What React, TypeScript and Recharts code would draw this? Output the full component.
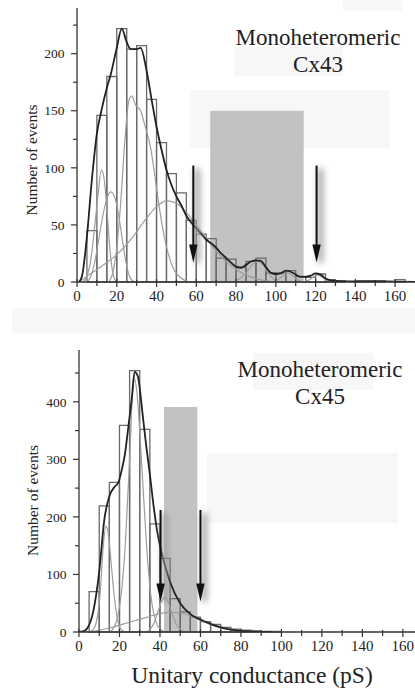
import React from "react";
import { ComposedChart, Line, XAxis, YAxis, ReferenceArea, ReferenceLine } from "recharts";

// ---------- Top panel: Cx43 ----------
const cx43BinStarts = [5, 10, 15, 20, 25, 30, 35, 40, 45, 50, 55, 60, 65, 70, 75, 80, 85, 90, 95, 100, 105, 110, 115, 120, 125, 130, 135, 140, 145, 150, 155, 160];
const cx43Counts = [45, 146, 180, 222, 204, 207, 160, 122, 95, 78, 54, 42, 38, 21, 20, 13, 18, 21, 8, 8, 10, 5, 4, 7, 2, 1, 0, 1, 1, 1, 0, 2];
const cx43Fit = [
  { x: 1, y: 0 }, { x: 2.5, y: 5 }, { x: 5, y: 40 }, { x: 7.5, y: 90 }, { x: 10, y: 130 }, { x: 12, y: 148 },
  { x: 15, y: 170 }, { x: 17, y: 182 }, { x: 20, y: 205 }, { x: 22.5, y: 222 }, { x: 25, y: 210 }, { x: 27, y: 204 },
  { x: 30, y: 204 }, { x: 32, y: 205 }, { x: 35, y: 185 }, { x: 37.5, y: 160 }, { x: 40, y: 136 }, { x: 42.5, y: 116 },
  { x: 45, y: 98 }, { x: 47.5, y: 85 }, { x: 50, y: 75 }, { x: 52.5, y: 67 }, { x: 55, y: 58 }, { x: 57.5, y: 52 },
  { x: 60, y: 47 }, { x: 62.5, y: 42 }, { x: 65, y: 37 }, { x: 67.5, y: 34 }, { x: 70, y: 30 }, { x: 72.5, y: 25 },
  { x: 75, y: 21 }, { x: 77.5, y: 17 }, { x: 80, y: 13.5 }, { x: 82.5, y: 12.5 }, { x: 85, y: 15 }, { x: 87.5, y: 18 },
  { x: 90, y: 19 }, { x: 92.5, y: 18.5 }, { x: 95, y: 13 }, { x: 97.5, y: 8 }, { x: 100, y: 7 }, { x: 102.5, y: 7.5 },
  { x: 105, y: 10 }, { x: 107.5, y: 9 }, { x: 110, y: 6.5 }, { x: 112.5, y: 4.5 }, { x: 115, y: 4.5 }, { x: 117.5, y: 5.5 },
  { x: 120, y: 7.5 }, { x: 122.5, y: 6.5 }, { x: 125, y: 3 }, { x: 127.5, y: 1.5 }, { x: 130, y: 1 }, { x: 140, y: 0.5 },
  { x: 155, y: 0.5 }, { x: 170, y: 0 },
];
const cx43G1 = [
  { x: 3, y: 0 }, { x: 5, y: 5 }, { x: 7, y: 20 }, { x: 9, y: 50 }, { x: 10.5, y: 75 }, { x: 12.3, y: 98 },
  { x: 13.5, y: 92 }, { x: 15, y: 65 }, { x: 16.5, y: 30 }, { x: 18, y: 8 }, { x: 19.5, y: 1 }, { x: 21, y: 0 },
];
const cx43G2 = [
  { x: 5, y: 0 }, { x: 7, y: 5 }, { x: 9, y: 18 }, { x: 11, y: 38 }, { x: 13, y: 58 }, { x: 15, y: 73 },
  { x: 17, y: 79 }, { x: 19, y: 74 }, { x: 21, y: 58 }, { x: 23, y: 35 }, { x: 25, y: 14 }, { x: 27, y: 3 }, { x: 29, y: 0 },
];
const cx43G3 = [
  { x: 16, y: 0 }, { x: 18, y: 8 }, { x: 20, y: 30 }, { x: 22, y: 70 }, { x: 24, y: 122 }, { x: 26, y: 158 },
  { x: 27.5, y: 163 }, { x: 29.5, y: 155 }, { x: 32, y: 150 }, { x: 34, y: 138 }, { x: 37, y: 118 }, { x: 39, y: 95 },
  { x: 41, y: 70 }, { x: 43, y: 48 }, { x: 46, y: 24 }, { x: 49, y: 10 }, { x: 52, y: 4 }, { x: 56, y: 0 },
];
const cx43G4 = [
  { x: 1, y: 0 }, { x: 5, y: 5 }, { x: 10, y: 11 }, { x: 15, y: 17 }, { x: 20, y: 24 }, { x: 25, y: 33 },
  { x: 30, y: 44 }, { x: 35, y: 56 }, { x: 40, y: 66 }, { x: 45, y: 71 }, { x: 50, y: 69 }, { x: 55, y: 61 },
  { x: 60, y: 50 }, { x: 65, y: 38 }, { x: 70, y: 27 }, { x: 75, y: 18 }, { x: 80, y: 11 }, { x: 85, y: 6 },
  { x: 90, y: 3 }, { x: 95, y: 1 }, { x: 100, y: 0 },
];
const cx43G5 = [
  { x: 78, y: 0 }, { x: 82, y: 3 }, { x: 85, y: 8 }, { x: 88, y: 15 }, { x: 91, y: 18 }, { x: 94, y: 14 },
  { x: 97, y: 6 }, { x: 100, y: 1 }, { x: 103, y: 0 },
];
const cx43G6 = [
  { x: 98, y: 0 }, { x: 101, y: 2 }, { x: 104, y: 6 }, { x: 106, y: 8 }, { x: 108, y: 6 }, { x: 111, y: 2 }, { x: 114, y: 0 },
];
const cx43G7 = [
  { x: 114, y: 0 }, { x: 117, y: 2 }, { x: 119.5, y: 5 }, { x: 121, y: 6 }, { x: 123, y: 4.5 }, { x: 125.5, y: 1.5 }, { x: 128, y: 0 },
];
const cx43Band = [67, 114, 150]; // x1, x2, top
const cx43Arrows = [
  { x: 58.5, from: 102, to: 17 },
  { x: 120.5, from: 102, to: 17 },
];

// ---------- Bottom panel: Cx45 ----------
const cx45BinStarts = [5, 10, 15, 20, 25, 30, 35, 40, 45, 50, 55, 60, 65, 70, 75, 80, 85, 90, 95];
const cx45Counts = [70, 219, 260, 359, 454, 352, 188, 128, 58, 35, 26, 18, 13, 8, 5, 3, 2, 1, 1];
const cx45Fit = [
  { x: 0, y: 0 }, { x: 2, y: 1 }, { x: 4, y: 6 }, { x: 7, y: 35 }, { x: 10, y: 105 }, { x: 12.5, y: 195 },
  { x: 15, y: 236 }, { x: 17.5, y: 252 }, { x: 19.5, y: 260 }, { x: 21, y: 280 }, { x: 22.7, y: 309 },
  { x: 24.5, y: 360 }, { x: 26, y: 403 }, { x: 27.5, y: 452 }, { x: 29, y: 445 }, { x: 31.5, y: 376 },
  { x: 33, y: 330 }, { x: 35, y: 274 }, { x: 37, y: 215 }, { x: 38.5, y: 178 }, { x: 41.5, y: 128 },
  { x: 45, y: 87 }, { x: 50, y: 50 }, { x: 55, y: 31 }, { x: 61, y: 20 }, { x: 65, y: 14 }, { x: 70, y: 8 },
  { x: 75, y: 4 }, { x: 80, y: 2 }, { x: 85, y: 1 }, { x: 95, y: 0 },
];
const cx45B1 = [
  { x: 5, y: 0 }, { x: 7, y: 4 }, { x: 9, y: 25 }, { x: 10.5, y: 70 }, { x: 12, y: 150 }, { x: 13.3, y: 184 },
  { x: 14.5, y: 170 }, { x: 16, y: 115 }, { x: 17.5, y: 60 }, { x: 19, y: 22 }, { x: 21, y: 4 }, { x: 23, y: 0 },
];
const cx45B2 = [
  { x: 15, y: 0 }, { x: 17, y: 6 }, { x: 19, y: 25 }, { x: 21, y: 70 }, { x: 23, y: 160 }, { x: 25, y: 300 },
  { x: 26.5, y: 415 }, { x: 27.3, y: 440 }, { x: 28.5, y: 420 }, { x: 30, y: 350 }, { x: 32, y: 230 },
  { x: 34, y: 120 }, { x: 36, y: 50 }, { x: 38, y: 18 }, { x: 40, y: 5 }, { x: 43, y: 0 },
];
const cx45B3 = [
  { x: 33, y: 0 }, { x: 35, y: 4 }, { x: 37, y: 15 }, { x: 39, y: 35 }, { x: 41, y: 55 }, { x: 42.5, y: 60 },
  { x: 44, y: 52 }, { x: 46, y: 32 }, { x: 48, y: 14 }, { x: 50, y: 4 }, { x: 53, y: 0 },
];
const cx45B4 = [
  { x: 3, y: 0 }, { x: 10, y: 3 }, { x: 15, y: 7 }, { x: 20, y: 12 }, { x: 25, y: 17 }, { x: 30, y: 22 },
  { x: 35, y: 27 }, { x: 40, y: 32 }, { x: 45, y: 34 }, { x: 50, y: 33 }, { x: 55, y: 28 }, { x: 60, y: 20 },
  { x: 65, y: 13 }, { x: 70, y: 7 }, { x: 75, y: 4 }, { x: 80, y: 2 }, { x: 85, y: 1 }, { x: 90, y: 0 },
];
const cx45Band = [42, 58.5, 391];
const cx45Arrows = [
  { x: 40.3, from: 212, to: 53 },
  { x: 60, from: 212, to: 53 },
];

const BIN_WIDTH = 5;
const topXTicks = [0, 10, 20, 30, 40, 50, 60, 70, 80, 90, 100, 110, 120, 130, 140, 150, 160];
const topYTicks = [0, 25, 50, 75, 100, 125, 150, 175, 200, 225];
const botXTicks = [0, 10, 20, 30, 40, 50, 60, 70, 80, 90, 100, 110, 120, 130, 140, 150, 160];
const botYTicks = [0, 50, 100, 150, 200, 250, 300, 350, 400, 450];

const SERIF = "Liberation Serif, Times New Roman, serif";
const serifStyle = { fontFamily: SERIF };
const AXIS = "#333";

const makeXTick = (every: number) => (props: any) => {
  const { x, y, payload } = props;
  const v = payload.value;
  const major = v % every === 0;
  return (
    <g>
      <line x1={x} x2={x} y1={y - (major ? 3 : 2)} y2={y + (major ? 5 : 4)} stroke={AXIS} strokeWidth={1.2} />
      {major && (
        <text x={x} y={y + 8} dy="0.71em" textAnchor="middle" fontSize={15} style={serifStyle} fill="#222">
          {v}
        </text>
      )}
    </g>
  );
};

const makeYTick = (every: number) => (props: any) => {
  const { x, y, payload } = props;
  const v = payload.value;
  const major = v % every === 0;
  return (
    <g>
      <line x1={x - (major ? 6 : 4)} x2={x} y1={y} y2={y} stroke={AXIS} strokeWidth={1.2} />
      {major && (
        <text x={x - 12.5} y={y} dy="0.35em" textAnchor="end" fontSize={13.5} style={serifStyle} fill="#222">
          {v}
        </text>
      )}
    </g>
  );
};

const ArrowShape = (props: any) => {
  const { x1, y1, x2, y2 } = props;
  if (x1 == null || y1 == null) return null;
  const head = 18;
  const hw = 4.2;
  return (
    <g>
      <line x1={x1 + 4} y1={y1 + 3} x2={x2 + 4} y2={y2} stroke="#9a9a9a" strokeWidth={5} style={{ filter: "blur(3px)" }} />
      <line x1={x1} y1={y1} x2={x2} y2={y2 - head + 2} stroke="#111" strokeWidth={2} />
      <polygon points={`${x2 - hw},${y2 - head} ${x2 + hw},${y2 - head} ${x2},${y2}`} fill="#111" />
    </g>
  );
};

const yLabel = (dx: number, dy: number) => (props: any) => {
  const vb = props.viewBox || {};
  const cx = vb.x + dx;
  const cy = vb.y + vb.height / 2 + dy;
  return (
    <text x={cx} y={cy} transform={`rotate(-90, ${cx}, ${cy})`} textAnchor="middle" fontSize={15.5} style={serifStyle} fill="#222">
      Number of events
    </text>
  );
};

const xLabel = (props: any) => {
  const vb = props.viewBox || {};
  return (
    <text x={vb.x + vb.width / 2 + 5} y={vb.y + 51} textAnchor="middle" fontSize={23.5} style={serifStyle} fill="#222">
      Unitary conductance (pS)
    </text>
  );
};

const fitLine = (data: any[], key: string) => (
  <Line key={key} data={data} dataKey="y" type="monotone" stroke="#222" strokeWidth={1.8} dot={false} isAnimationActive={false} />
);
const compLine = (data: any[], key: string) => (
  <Line key={key} data={data} dataKey="y" type="monotone" stroke="#9d9d9d" strokeWidth={1.2} dot={false} isAnimationActive={false} />
);

const faint = [
  { l: 343, t: 0, w: 59, h: 11 },
  { l: 235, t: 47, w: 108, h: 29 },
  { l: 190, t: 90, w: 199, h: 58 },
  { l: 12, t: 308, w: 403, h: 25 },
  { l: 253, t: 353, w: 120, h: 37 },
  { l: 207, t: 453, w: 191, h: 70 },
];

export default function App() {
  return (
    <div style={{ position: "absolute", left: 0, top: 0, width: 415, height: 694, background: "#fff", overflow: "hidden", fontFamily: SERIF }}>
      {faint.map((f, i) => (
        <div key={i} style={{ position: "absolute", left: f.l, top: f.t, width: f.w, height: f.h, background: "#f7f7f7" }} />
      ))}

      <div style={{ position: "absolute", left: 0, top: 0 }}>
        <ComposedChart width={415} height={305} margin={{ top: 8, right: 0, bottom: 0, left: 0 }}>
          <XAxis
            dataKey="x"
            type="number"
            domain={[0, 170]}
            ticks={topXTicks}
            interval={0}
            tickSize={0}
            tickMargin={0}
            tickLine={false}
            height={23}
            stroke={AXIS}
            strokeWidth={1.3}
            tick={makeXTick(20)}
            allowDataOverflow
          />
          <YAxis
            type="number"
            domain={[0, 240]}
            ticks={topYTicks}
            interval={0}
            tickSize={0}
            tickMargin={0}
            tickLine={false}
            width={77}
            stroke={AXIS}
            strokeWidth={1.3}
            tick={makeYTick(50)}
            allowDataOverflow
            label={{ content: yLabel(36.5, 15) }}
          />
          <ReferenceArea x1={cx43Band[0]} x2={cx43Band[1]} y1={0} y2={cx43Band[2]} fill="#c2c2c2" fillOpacity={1} stroke="none" />
          {cx43BinStarts.map((b, i) =>
            cx43Counts[i] > 0 ? (
              <ReferenceArea key={"b" + i} x1={b} x2={b + BIN_WIDTH} y1={0} y2={cx43Counts[i]} fill="none" fillOpacity={0} stroke="#6a6a6a" strokeWidth={1.3} />
            ) : null
          )}
          {compLine(cx43G1, "g1")}
          {compLine(cx43G2, "g2")}
          {compLine(cx43G3, "g3")}
          {compLine(cx43G4, "g4")}
          {compLine(cx43G5, "g5")}
          {compLine(cx43G6, "g6")}
          {compLine(cx43G7, "g7")}
          {fitLine(cx43Fit, "fit")}
          {cx43Arrows.map((a, i) => (
            <ReferenceLine key={"a" + i} segment={[{ x: a.x, y: a.from }, { x: a.x, y: a.to }]} shape={ArrowShape} stroke="#111" />
          ))}
        </ComposedChart>
      </div>

      <div style={{ position: "absolute", left: 0, top: 300 }}>
        <ComposedChart width={415} height={394} margin={{ top: 50, right: 0, bottom: 0, left: 0 }}>
          <XAxis
            dataKey="x"
            type="number"
            domain={[0, 166]}
            ticks={botXTicks}
            interval={0}
            tickSize={0}
            tickMargin={0}
            tickLine={false}
            height={62}
            stroke={AXIS}
            strokeWidth={1.3}
            tick={makeXTick(20)}
            allowDataOverflow
            label={{ content: xLabel }}
          />
          <YAxis
            type="number"
            domain={[0, 490]}
            ticks={botYTicks}
            interval={0}
            tickSize={0}
            tickMargin={0}
            tickLine={false}
            width={79}
            stroke={AXIS}
            strokeWidth={1.3}
            tick={makeYTick(100)}
            allowDataOverflow
            label={{ content: yLabel(38, 9.5) }}
          />
          <ReferenceArea x1={cx45Band[0]} x2={cx45Band[1]} y1={0} y2={cx45Band[2]} fill="#c2c2c2" fillOpacity={1} stroke="none" />
          {cx45BinStarts.map((b, i) =>
            cx45Counts[i] > 0 ? (
              <ReferenceArea key={"c" + i} x1={b} x2={b + BIN_WIDTH} y1={0} y2={cx45Counts[i]} fill="none" fillOpacity={0} stroke="#6a6a6a" strokeWidth={1.3} />
            ) : null
          )}
          {compLine(cx45B1, "h1")}
          {compLine(cx45B2, "h2")}
          {compLine(cx45B3, "h3")}
          {compLine(cx45B4, "h4")}
          {fitLine(cx45Fit, "fit2")}
          {cx45Arrows.map((a, i) => (
            <ReferenceLine key={"d" + i} segment={[{ x: a.x, y: a.from }, { x: a.x, y: a.to }]} shape={ArrowShape} stroke="#111" />
          ))}
        </ComposedChart>
      </div>

      <svg width={415} height={694} style={{ position: "absolute", left: 0, top: 0, pointerEvents: "none" }}>
        <text x={318} y={45} textAnchor="middle" fontSize={23} style={serifStyle} fill="#222">Monoheteromeric</text>
        <text x={318} y={72} textAnchor="middle" fontSize={23} style={serifStyle} fill="#222">Cx43</text>
        <text x={320} y={377} textAnchor="middle" fontSize={23} style={serifStyle} fill="#222">Monoheteromeric</text>
        <text x={320} y={404} textAnchor="middle" fontSize={23} style={serifStyle} fill="#222">Cx45</text>
      </svg>
    </div>
  );
}
